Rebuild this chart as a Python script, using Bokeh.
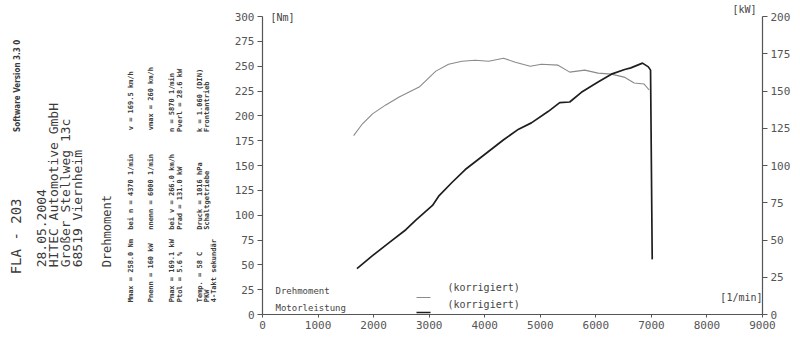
from bokeh.plotting import figure
from bokeh.layouts import row
from bokeh.models import Range1d, LinearAxis, FixedTicker, Label, ColumnDataSource
from bokeh.embed import file_html
from bokeh.resources import INLINE
from bokeh.core.properties import value
import math

# ---------------- data ----------------
rpm_torque = [1640, 1800, 1980, 2220, 2460, 2640, 2820, 2970, 3120, 3350, 3590, 3830, 4070,
              4340, 4550, 4820, 5020, 5320, 5530, 5800, 6040, 6280, 6510, 6690, 6870, 6960]
torque_nm = [180, 192, 202, 211, 219, 224, 229, 237, 245, 252, 255, 256, 255,
             258, 254, 250, 252, 251, 244, 246, 243, 242, 239, 233, 232, 226]

rpm_power = [1700, 1980, 2280, 2580, 2760, 3060, 3180, 3410, 3650, 4010, 4340, 4610, 4840,
             5140, 5350, 5530, 5740, 6040, 6280, 6520, 6630, 6840, 6945, 6985, 7015]
power_kw = [30.8, 39.5, 48.2, 56.9, 63.4, 73.2, 79.8, 88.6, 97.3, 107.7, 117.3, 124.4, 128.6,
            136.2, 142.2, 142.6, 149.1, 156.0, 161.3, 164.4, 165.5, 168.7, 166.2, 164.0, 37.0]

x_ticks = [0, 1000, 2000, 3000, 4000, 5000, 6000, 7000, 8000, 9000]
nm_ticks = [0, 25, 50, 75, 100, 125, 150, 175, 200, 225, 250, 275, 300]
kw_ticks = [0, 25, 50, 75, 100, 125, 150, 175, 200]

header_big = ["FLA - 203"]
header_small = ["Software Version 3.3 0"]
address = ["28.05.2004", "HITEC Automotive GmbH", "Großer Stellweg 13c", "68519 Viernheim"]
section = ["Drehmoment"]
info_g1 = ["Mmax = 258.0 Nm", "Pnenn = 160 kW", "Pmax = 169.1 kW", "Ptol = 5.6 %",
           "Temp. = 58 C", "PKW", "4-Takt sekundär"]
info_g2 = ["bei n = 4370 1/min", "nnenn = 6000 1/min", "bei v = 266.0 km/h", "Prad = 131.0 kW",
           "Druck = 1016 hPa", "Schaltgetriebe"]
info_g3 = ["v = 169.5 km/h", "vmax = 260 km/h", "n = 5870 1/min", "Pverl = 28.6 kW",
           "k = 1.060 (DIN)", "Frontantrieb"]
legend_names = ["Drehmoment", "Motorleistung"]
legend_note = "(korrigiert)"
unit_nm, unit_kw, unit_rpm = "[Nm]", "[kW]", "[1/min]"

MONO = "DejaVu Sans Mono"
COND = "DejaVu Sans Condensed"
INK = "#3a3a3a"

# ---------------- left text panel ----------------
H = 355
left = figure(width=225, height=H, x_range=Range1d(0, 225), y_range=Range1d(0, H),
              output_backend="svg", toolbar_location=None, min_border=0)
left.axis.visible = False
left.grid.visible = False
left.outline_line_color = None


def vtext(fig, xs, ys, texts, size, bold=False, font=MONO):
    src = ColumnDataSource(dict(x=xs, y=[H - y for y in ys], t=texts))
    fig.text(x="x", y="y", text="t", source=src, angle=math.pi / 2,
             text_align="left", text_baseline="middle",
             text_font=value(font), text_font_size=size,
             text_font_style="bold" if bold else "normal", text_color=INK)


vtext(left, [15], [309], header_big, "14px")
vtext(left, [17], [146], header_small, "8px", bold=True, font=COND)
vtext(left, [41, 53, 65, 77], [301, 301, 301, 301], address, "13px")
vtext(left, [106], [301], section, "12px")
cols = [130, 150, 171, 179, 199, 206, 213]
vtext(left, cols, [341] * 7, info_g1, "7px", bold=True)
vtext(left, cols[:6], [258] * 6, info_g2, "7px", bold=True)
vtext(left, cols[:6], [144, 144, 146, 146, 146, 146], info_g3, "7px", bold=True)

# ---------------- main chart ----------------
TOP, BOT = 4, 314          # frame top / bottom in page pixels
NM_PX = 298 / 300          # pixels per Nm
nm_top = (BOT - TOP) / NM_PX
kw_top = nm_top * 200 / 300

p = figure(width=575, height=H, x_range=Range1d(0, 9000), y_range=Range1d(0, nm_top),
           output_backend="svg", toolbar_location=None,
           min_border_left=37, min_border_right=38, min_border_top=TOP,
           min_border_bottom=H - BOT)
p.extra_y_ranges = {"kw": Range1d(0, kw_top)}
p.grid.visible = False
p.outline_line_color = None

right_axis = LinearAxis(y_range_name="kw")
p.add_layout(right_axis, "right")

for ax in [p.xaxis[0], p.yaxis[0], right_axis]:
    ax.axis_line_color = "#555555"
    ax.axis_line_width = 1.2
    ax.major_tick_line_color = "#555555"
    ax.minor_tick_line_color = None
    ax.major_tick_in = 0
    ax.major_tick_out = 5
    ax.major_label_text_font = MONO
    ax.major_label_text_font_size = "11px"
    ax.major_label_text_color = "#555555"
    ax.major_label_standoff = 3

p.xaxis[0].ticker = FixedTicker(ticks=x_ticks)
p.xaxis[0].major_tick_out = 3
p.yaxis[0].ticker = FixedTicker(ticks=nm_ticks)
p.yaxis[0].bounds = (0, 300)
right_axis.ticker = FixedTicker(ticks=kw_ticks)
right_axis.bounds = (0, 200)

p.line(rpm_torque, torque_nm, line_color="#8a8a8a", line_width=1.1)
p.line(rpm_power, power_kw, y_range_name="kw", line_color="#1e1e1e", line_width=1.7)


def dx(px):
    return (px - 262) / 500 * 9000


def dy(py):
    return (BOT - py) / NM_PX


def lab(px, py, text, align="left", size="11px"):
    p.add_layout(Label(x=dx(px), y=dy(py), text=text, text_align=align,
                       text_baseline="middle", text_font=MONO, text_font_size=size,
                       text_color="#444444"))


lab(270, 17, unit_nm, size="10px")
lab(756, 9, unit_kw, align="right", size="10px")
lab(762, 297, unit_rpm, align="right", size="10px")

lab(275, 290, legend_names[0], size="9px")
lab(275, 307, legend_names[1], size="9px")
lab(447, 287, legend_note, size="10px")
lab(447, 304, legend_note, size="10px")
p.segment(x0=[dx(416)], y0=[dy(297)], x1=[dx(430)], y1=[dy(297)],
          line_color="#8a8a8a", line_width=1.1)
p.segment(x0=[dx(416)], y0=[dy(312)], x1=[dx(430)], y1=[dy(312)],
          line_color="#1e1e1e", line_width=1.7)

layout = row(left, p)
open("out.html", "w").write(file_html(layout, INLINE))
